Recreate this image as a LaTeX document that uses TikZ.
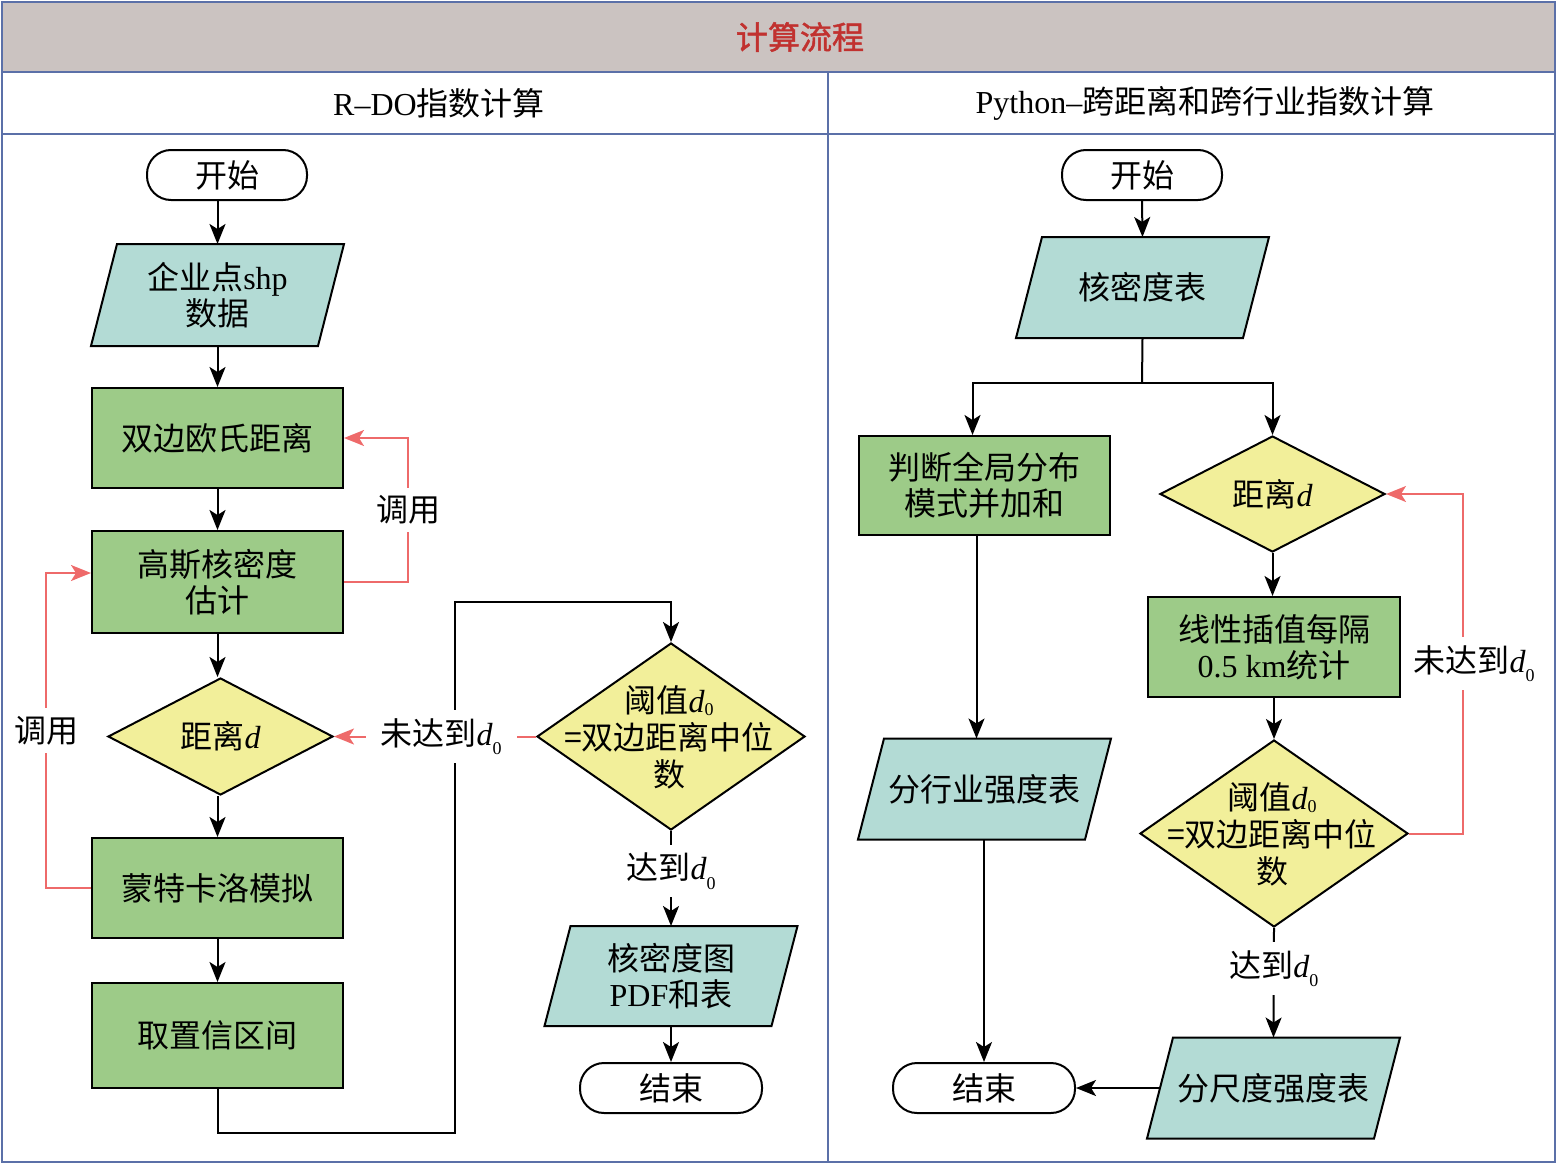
\documentclass[tikz,border=0pt]{standalone}
\usepackage{fontspec}
\setmainfont{Liberation Serif}
\newfontfamily\cjk{Noto Sans CJK SC}
\newfontfamily\cjkbold[FakeBold=1.5]{Noto Sans CJK SC}
\usetikzlibrary{shapes.geometric,arrows.meta,backgrounds,calc}
\definecolor{framec}{RGB}{91,112,168}
\definecolor{bandc}{RGB}{203,195,193}
\definecolor{titlec}{RGB}{193,49,47}
\definecolor{tealc}{RGB}{179,219,213}
\definecolor{greenc}{RGB}{157,203,136}
\definecolor{yellowc}{RGB}{242,239,154}
\definecolor{redc}{RGB}{238,106,106}
\newcommand\lat[1]{{\rmfamily #1}}
\newcommand\dd{{\rmfamily\itshape d}}
\newcommand\dz{{\rmfamily\itshape d}{\rmfamily\raisebox{-0.3em}{\fontsize{18}{18}\selectfont 0}}}
\newcommand\dzs{{\rmfamily\itshape d}{\rmfamily\raisebox{-0.12em}{\fontsize{18}{18}\selectfont 0}}}
\tikzset{
  base/.style={font=\cjk\fontsize{32}{36}\selectfont, align=center, inner sep=0pt, line width=2pt},
  term/.style={base, draw, rounded corners=24pt, minimum height=50pt},
  procbox/.style={base, draw, fill=greenc, minimum width=251pt},
  paranode/.style={base, minimum width=225pt},
  dia/.style={base, draw, fill=yellowc, diamond},
  lbl/.style={font=\cjk\fontsize{32}{36}\selectfont, text=black, fill=white, inner xsep=3pt, inner ysep=8pt},
  arr/.style={line width=2pt, -{Stealth[length=20pt,width=16pt,inset=5pt]}},
  redarr/.style={line width=2pt, draw=redc, -{Stealth[length=20pt,width=16pt,inset=5pt]}, color=redc},
  ln/.style={line width=2pt},
}
\newcommand\para[1]{%
  \fill[tealc] ([xshift=13pt]#1.north west) -- ([xshift=13pt]#1.north east) -- ([xshift=-13pt]#1.south east) -- ([xshift=-13pt]#1.south west) -- cycle;
  \draw[line width=2pt, line join=miter] ([xshift=13pt]#1.north west) -- ([xshift=13pt]#1.north east) -- ([xshift=-13pt]#1.south east) -- ([xshift=-13pt]#1.south west) -- cycle;}
\begin{document}
\begin{tikzpicture}[x=1pt,y=-1pt]
\useasboundingbox (0,0) rectangle (1557,1164);
% frame
\fill[bandc] (2,2) rectangle (1555,72);
\draw[framec, line width=2pt] (2,2) rectangle (1555,1162);
\draw[framec, line width=2pt] (2,72) -- (1555,72);
\draw[framec, line width=2pt] (2,134) -- (1555,134);
\draw[framec, line width=2pt] (828,72) -- (828,1162);
\node[font=\cjkbold\fontsize{32}{36}\selectfont, text=titlec] (title) at (800,37) {计算流程};
\node[font=\cjk\fontsize{32}{36}\selectfont] (hl) at (439,103) {\lat{R–DO}指数计算};
\node[font=\cjk\fontsize{32}{36}\selectfont] (hr) at (1205,103) {\lat{Python–}跨距离和跨行业指数计算};

% left column
\node[term, minimum width=160pt] (s1) at (227,175) {开始};
\node[paranode, minimum height=100pt] (p1) at (217.5,295) {企业点\lat{shp}\\数据};
\node[procbox, minimum height=100pt] (b1) at (217.5,438) {双边欧氏距离};
\node[procbox, minimum height=102pt] (b2) at (217.5,582) {高斯核密度\\估计};
\node[dia, minimum width=225pt, minimum height=117pt] (d3) at (220.5,736.5) {距离\dd};
\node[procbox, minimum height=100pt] (b3) at (217.5,888) {蒙特卡洛模拟};
\node[procbox, minimum height=105pt] (b4) at (217.5,1035.5) {取置信区间};
\node[dia, minimum width=268pt, minimum height=187pt] (d4) at (671,736.5) {};
\node[base, font=\cjk\fontsize{32}{37}\selectfont] (d4t) at (669,737) {阈值\dzs\\=双边距离中位\\数};
\node[paranode, minimum height=98pt] (p5) at (671,976) {核密度图\\\lat{PDF}和表};
\node[term, minimum width=182pt] (e1) at (671,1088) {结束};

% right column
\node[term, minimum width=160pt] (s2) at (1142,175) {开始};
\node[paranode, minimum height=99pt] (p2) at (1142.5,287.5) {核密度表};
\node[procbox, minimum height=99pt] (r1) at (984.5,485.5) {判断全局分布\\模式并加和};
\node[dia, minimum width=225pt, minimum height=116pt] (d1) at (1272.5,494) {距离\dd};
\node[procbox, minimum width=252pt, minimum height=100pt] (r2) at (1274,647) {线性插值每隔\\\lat{0.5 km}统计};
\node[dia, minimum width=268pt, minimum height=187pt] (d2) at (1274,833.5) {};
\node[base, font=\cjk\fontsize{32}{37}\selectfont] (d2t) at (1272,834) {阈值\dzs\\=双边距离中位\\数};
\node[paranode, minimum height=99pt] (p3) at (984.5,789) {分行业强度表};
\node[paranode, minimum height=99pt] (p4) at (1273.5,1088) {分尺度强度表};
\node[term, minimum width=182pt] (e2) at (984,1088) {结束};

\begin{scope}[on background layer]
\para{p1}\para{p5}\para{p2}\para{p3}\para{p4}
\end{scope}

% left connectors
\draw[arr] (s1.south -| p1.north) -- (p1.north);
\draw[arr] (p1.south) -- (b1.north);
\draw[arr] (b1) -- (b2);
\draw[arr] (b2.south) -- (d3.north -| b2.south);
\draw[arr] (d3.south -| b3.north) -- (b3.north);
\draw[arr] (b3) -- (b4);
\coordinate (c1) at (455,1133);
\coordinate (c2) at (455,602);
\draw[arr] (b4.south) |- (c1) -- (c2) -| (d4.north);
\draw[redarr] (d4.west) -- node[lbl, inner xsep=15pt, pos=0.47] {未达到\dz} (d3.east);
\draw[arr] (d4.south) -- node[lbl, pos=0.42] {达到\dz} (p5.north);
\draw[arr] (p5.south) -- (e1.north);
\draw[redarr] (b2.east) -- ++(64,0) |- node[lbl, pos=0.25] {调用} (b1.east);
\draw[redarr] (b3.west) -- ++(-45,0) |- node[lbl, pos=0.25] {调用} ([yshift=9pt]b2.west);

% right connectors
\draw[arr] (s2.south) -- (p2.north);
\coordinate (br) at (1142,383);
\draw[ln] (p2.south) -- (br);
\draw[arr] (br) -| ([xshift=-12pt]r1.north);
\draw[arr] (br) -| (d1.north);
\draw[arr] (d1.south) -- (r2.north -| d1.south);
\draw[arr] (r2.south) -- (d2.north);
\draw[redarr] (d2.east) -- ++(54,0) |- node[lbl, pos=0.25, xshift=11pt] {未达到\dz} (d1.east);
\draw[arr] (d2.south) -- node[lbl, pos=0.37] {达到\dz} (p4.north);
\draw[arr] ([xshift=-8pt]r1.south) -- ([xshift=-8pt]p3.north);
\draw[arr] (p3.south -| e2.north) -- (e2.north);
\draw[arr] (p4.west) -- (e2.east);
\end{tikzpicture}
\end{document}
